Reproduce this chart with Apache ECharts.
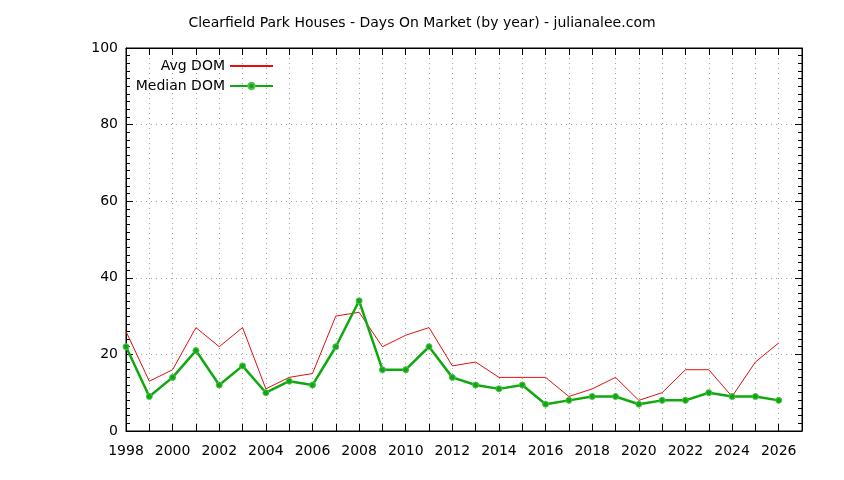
<!DOCTYPE html>
<html>
<head>
<meta charset="utf-8">
<script src="https://cdn.jsdelivr.net/npm/echarts@6/dist/echarts.min.js"></script>
<style>html,body{margin:0;padding:0;background:#fff}#c{width:844px;height:480px}</style>
</head>
<body>
<div id="c"></div>
<script>
const years = [1998,1999,2000,2001,2002,2003,2004,2005,2006,2007,2008,2009,2010,2011,2012,2013,2014,2015,2016,2017,2018,2019,2020,2021,2022,2023,2024,2025,2026];
const avgDOM = [26,13,16,27,22,27,11,14,15,30,31,22,25,27,17,18,14,14,14,9,11,14,8,10,16,16,9,18,23];
const medianDOM = [22,9,14,21,12,17,10,13,12,22,34,16,16,22,14,12,11,12,7,8,9,9,7,8,8,10,9,9,8];
const titleText = 'Clearfield Park Houses - Days On Market (by year) - julianalee.com';
const FONT = 'DejaVu Sans';

const chart = echarts.init(document.getElementById('c'), null, {renderer: 'canvas'});
const xCommon = {
  type: 'value', min: 1998, max: 2027, interval: 1,
  axisLine: {show: true, onZero: false, lineStyle: {color: '#000', width: 1}},
  axisTick: {show: true, inside: true, length: 7, lineStyle: {color: '#000'}},
  splitLine: {show: false},
  minorTick: {show: false}
};
const yCommon = {
  type: 'value', min: 0, max: 100, interval: 20,
  axisLine: {show: true, onZero: false, lineStyle: {color: '#000', width: 1}},
  axisTick: {show: true, inside: true, length: 7, lineStyle: {color: '#000'}},
  minorTick: {show: true, splitNumber: 10, length: 4, lineStyle: {color: '#000'}},
  splitLine: {show: false}
};
const legendText = {fontFamily: FONT, fontSize: 14, color: '#000'};
chart.setOption({
  animation: false,
  backgroundColor: '#fff',
  title: {
    text: titleText, left: 'center', top: 11,
    textStyle: {fontFamily: FONT, fontSize: 14, fontWeight: 'normal', color: '#000'}
  },
  legend: [
    {data: [{name: 'Avg DOM', itemStyle: {opacity: 0}}], align: 'right', right: 570, top: 59, padding: 0,
     itemWidth: 43, itemHeight: 8, itemGap: 0, textStyle: legendText},
    {data: [{name: 'Median DOM'}], align: 'right', right: 570, top: 79, padding: 0,
     itemWidth: 43, itemHeight: 8, itemGap: 0, textStyle: legendText}
  ],
  grid: {left: 126, right: 42, top: 48, bottom: 49, show: true, borderColor: '#000', borderWidth: 1, containLabel: false},
  xAxis: [
    Object.assign({}, xCommon, {
      position: 'bottom',
      axisLabel: {fontFamily: FONT, fontSize: 14, color: '#000', margin: 13,
        formatter: v => (v % 2 === 0 && v <= 2026) ? String(v) : ''},
      splitLine: {show: true, lineStyle: {color: '#a0a0a0', type: [1, 4], width: 1}}
    }),
    Object.assign({}, xCommon, {position: 'top', axisLabel: {show: false}})
  ],
  yAxis: [
    Object.assign({}, yCommon, {
      position: 'left',
      axisLabel: {fontFamily: FONT, fontSize: 14, color: '#000', margin: 8},
      splitLine: {show: true, lineStyle: {color: '#a0a0a0', type: [1, 4], width: 1}}
    }),
    Object.assign({}, yCommon, {position: 'right', axisLabel: {show: false}})
  ],
  series: [
    {
      name: 'Avg DOM', type: 'line', xAxisIndex: 0, yAxisIndex: 0,
      data: years.map((y, i) => [y, avgDOM[i]]),
      symbol: 'none', showSymbol: false,
      lineStyle: {color: '#e01010', width: 1},
      itemStyle: {color: '#e01010'}
    },
    {
      name: 'Median DOM', type: 'line', xAxisIndex: 0, yAxisIndex: 0,
      data: years.map((y, i) => [y, medianDOM[i]]),
      symbol: 'circle', symbolSize: 6, showSymbol: true,
      lineStyle: {color: '#10a810', width: 2.5},
      itemStyle: {color: '#10a810', borderColor: '#50c050', borderWidth: 1}
    }
  ]
});
</script>
</body>
</html>
